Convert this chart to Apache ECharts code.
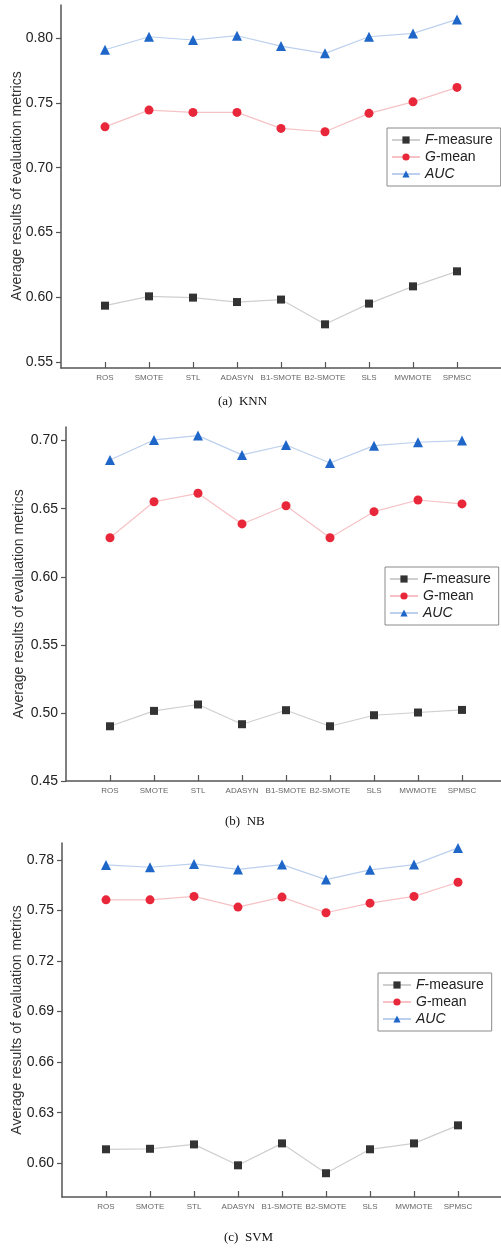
<!DOCTYPE html>
<html>
<head>
<meta charset="utf-8">
<script src="https://cdn.jsdelivr.net/npm/echarts@6/dist/echarts.min.js"></script>
<style>
html,body{margin:0;padding:0;background:#fff;}
#c{width:501px;height:1253px;}
</style>
</head>
<body>
<div id="c"></div>
<script>
const categories = ['ROS','SMOTE','STL','ADASYN','B1-SMOTE','B2-SMOTE','SLS','MWMOTE','SPMSC'];
const seriesNames = ['F-measure','G-mean','AUC'];

const knnF   = [0.5935,0.6007,0.5997,0.5963,0.5982,0.5791,0.5951,0.6084,0.6200];
const knnG   = [0.7315,0.7444,0.7426,0.7426,0.7303,0.7277,0.7419,0.7508,0.7619];
const knnAUC = [0.7910,0.8010,0.7985,0.8018,0.7938,0.7882,0.8010,0.8036,0.8144];

const nbF   = [0.4902,0.5015,0.5062,0.4917,0.5020,0.4902,0.4983,0.5003,0.5022];
const nbG   = [0.6287,0.6551,0.6613,0.6388,0.6522,0.6287,0.6478,0.6564,0.6535];
const nbAUC = [0.6858,0.7005,0.7037,0.6895,0.6968,0.6836,0.6963,0.6988,0.7000];

const svmF   = [0.6083,0.6086,0.6112,0.5988,0.6118,0.5941,0.6083,0.6118,0.6225];
const svmG   = [0.7563,0.7563,0.7583,0.7520,0.7579,0.7486,0.7543,0.7583,0.7667];
const svmAUC = [0.7770,0.7756,0.7776,0.7743,0.7772,0.7683,0.7741,0.7772,0.7871];

const knnTicks = [0.55,0.60,0.65,0.70,0.75,0.80];
const nbTicks  = [0.45,0.50,0.55,0.60,0.65,0.70];
const svmTicks = [0.60,0.63,0.66,0.69,0.72,0.75,0.78];

const captions = ['(a)  KNN','(b)  NB','(c)  SVM'];
const yTitle = 'Average results of evaluation metrics';

const panels = [
  {F:knnF,G:knnG,A:knnAUC,ticks:knnTicks,min:0.5454,max:0.8255,grid:{left:61,top:5,width:440,height:363},
   legend:{left:387,top:128},caption:{x:248,y:403},title:{x:17,y:186}},
  {F:nbF,G:nbG,A:nbAUC,ticks:nbTicks,min:0.45,max:0.71,grid:{left:66,top:427,width:440,height:354},
   legend:{left:385,top:567},caption:{x:255,y:823},title:{x:19,y:604}},
  {F:svmF,G:svmG,A:svmAUC,ticks:svmTicks,min:0.58,max:0.79,grid:{left:62,top:843,width:440,height:354},
   legend:{left:378,top:973},caption:{x:254,y:1239},title:{x:17.5,y:1020}}
];

const styles = {
  'F-measure': {symbol:'rect', size:8, color:'#333333', line:'#cfcfcf'},
  'G-mean':    {symbol:'circle', size:9, color:'#e8283a', line:'#f6c2c6'},
  'AUC':       {symbol:'triangle', size:10, color:'#1e66c8', line:'#bcd0ee'}
};

const chart = echarts.init(document.getElementById('c'), null, {renderer:'canvas'});
const idx = categories.map((_, i) => i);

const option = {
  backgroundColor:'#ffffff',
  animation:false,
  grid:[], xAxis:[], yAxis:[], series:[], legend:[], graphic:[]
};

panels.forEach((p, k) => {
  option.grid.push(Object.assign({containLabel:false, outerBoundsMode:'none'}, p.grid));
  option.xAxis.push({
    type:'value', gridIndex:k, min:-1, max:9,
    axisLine:{show:true, onZero:false, lineStyle:{color:'#555', width:1.5}},
    axisTick:{show:true, inside:true, length:6, customValues:idx, lineStyle:{color:'#555', width:1.2}},
    axisLabel:{show:true, customValues:idx, formatter:v => categories[Math.round(v)] || '',
      fontSize:8, color:'#666', fontFamily:'Liberation Sans', margin:6},
    splitLine:{show:false}
  });
  option.yAxis.push({
    type:'value', gridIndex:k, min:p.min, max:p.max,
    axisLine:{show:true, onZero:false, lineStyle:{color:'#555', width:1.5}},
    axisTick:{show:true, inside:false, length:5, customValues:p.ticks, lineStyle:{color:'#555', width:1.2}},
    axisLabel:{show:true, customValues:p.ticks, formatter:v => v.toFixed(2),
      fontSize:14, color:'#222', fontFamily:'Liberation Sans', margin:8},
    splitLine:{show:false}
  });
  const vals = {'F-measure':p.F, 'G-mean':p.G, 'AUC':p.A};
  ['AUC','G-mean','F-measure'].forEach(n => {
    const s = styles[n];
    option.series.push({
      type:'line', name:n, xAxisIndex:k, yAxisIndex:k,
      data: vals[n].map((v, i) => [i, v]),
      symbol:s.symbol, symbolSize:s.size,
      itemStyle:{color:s.color},
      lineStyle:{color:s.line, width:1.2},
      z: n === 'F-measure' ? 4 : 3
    });
  });
  option.legend.push({
    data:seriesNames, orient:'vertical',
    left:p.legend.left, top:p.legend.top,
    itemWidth:28, itemHeight:9, itemGap:3,
    padding:[5,8,5,4],
    borderColor:'#8a8a8a', borderWidth:1,
    textStyle:{fontSize:14, color:'#222', fontFamily:'Liberation Sans',
      rich:{i:{fontStyle:'italic', fontSize:14, color:'#222', fontFamily:'Liberation Sans'}}},
    formatter: n => n === 'F-measure' ? '{i|F}-measure' : (n === 'G-mean' ? '{i|G}-mean' : '{i|AUC}')
  });
  option.graphic.push({
    type:'text', left:p.caption.x - 30, top:p.caption.y - 8,
    style:{text:captions[k], font:'13px "Liberation Serif"', fill:'#111', width:60, textAlign:'left'}
  });
  option.graphic.push({
    type:'text', x:p.title.x, y:p.title.y, rotation:Math.PI/2,
    style:{text:yTitle, font:'14px "Liberation Sans"', fill:'#333', align:'center', verticalAlign:'middle'}
  });
});

chart.setOption(option);
</script>
</body>
</html>
